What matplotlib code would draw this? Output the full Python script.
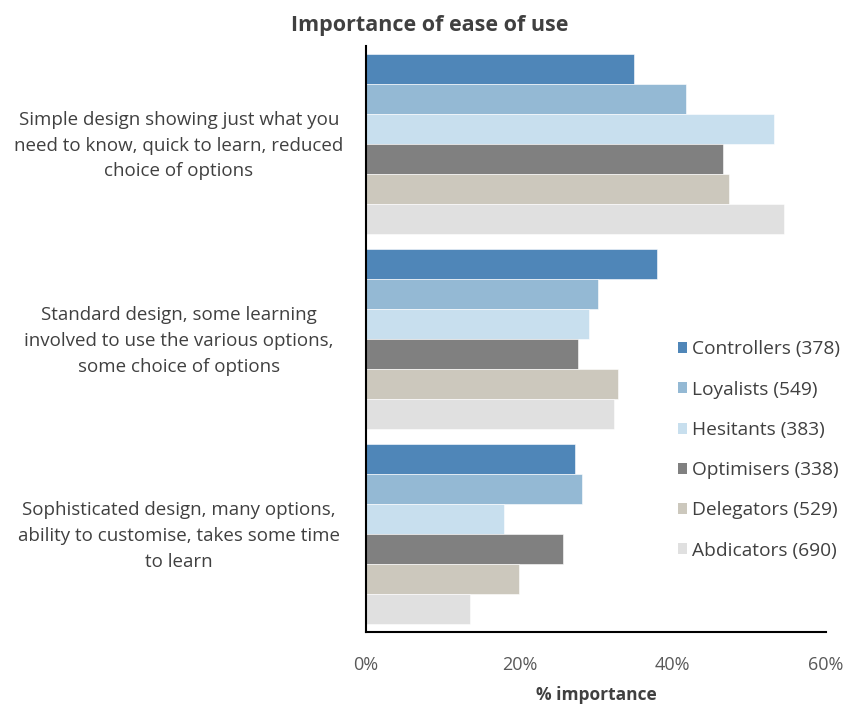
import matplotlib
matplotlib.use("Agg")
import matplotlib.pyplot as plt
import matplotlib.transforms as mtransforms
import numpy as np
from matplotlib.patches import Patch

categories = [
    "Simple design showing just what you\nneed to know, quick to learn, reduced\nchoice of options",
    "Standard design, some learning\ninvolved to use the various options,\nsome choice of options",
    "Sophisticated design, many options,\nability to customise, takes some time\nto learn",
]
series = ["Controllers (378)", "Loyalists (549)", "Hesitants (383)",
          "Optimisers (338)", "Delegators (529)", "Abdicators (690)"]
controllers = [35.0, 37.9, 27.3]
loyalists = [41.7, 30.3, 28.2]
hesitants = [53.2, 29.1, 18.0]
optimisers = [46.6, 27.7, 25.7]
delegators = [47.4, 32.9, 19.9]
abdicators = [54.5, 32.3, 13.5]
values = [controllers, loyalists, hesitants, optimisers, delegators, abdicators]
colors = ["#4F86B8", "#94B9D4", "#C8DFEE", "#808080", "#CCC8BD", "#E0E0E0"]
xticks = [0, 20, 40, 60]
xticklabels = ["0%", "20%", "40%", "60%"]

plt.rcParams['font.family'] = ['Open Sans', 'DejaVu Sans']

fig = plt.figure(figsize=(8.47, 7.04), dpi=100)
ax = fig.add_axes([366/847, 1-632/704, 460/847, 586/704])

n = len(series)
h = 0.923 / n
y = np.arange(len(categories))
for j, (vals, c) in enumerate(zip(values, colors)):
    ax.barh(y + (j - (n - 1) / 2) * h, vals, height=h, color=c, label=series[j],
            edgecolor="white", linewidth=0.4)

ax.set_ylim(len(categories) - 0.5, -0.5)
ax.set_xlim(0, 60)
ax.set_xticks(xticks)
ax.set_xticklabels(xticklabels, color="#595959", fontsize=13)
ax.set_yticks(y)
ax.set_yticklabels(categories, color="#404040", fontsize=13.5, ha="center",
                   multialignment="center", linespacing=1.55)
ax.tick_params(axis="y", length=0, pad=(366 - 179) * 0.72)
ax.tick_params(axis="x", length=0, pad=17)
shift = mtransforms.ScaledTranslation(0, 4/100, fig.dpi_scale_trans)
for lab in ax.get_yticklabels():
    lab.set_transform(lab.get_transform() + shift)
for s in ["top", "right"]:
    ax.spines[s].set_visible(False)
ax.spines["left"].set_color("#000000")
ax.spines["bottom"].set_color("#000000")
ax.spines["left"].set_linewidth(1.5)
ax.spines["bottom"].set_linewidth(1.5)

ax.set_xlabel("% importance", fontsize=12.5, fontweight="bold", color="#404040", labelpad=9)
fig.text(430/847, 1-26/704, "Importance of ease of use", ha="center", va="center",
         fontsize=15.5, fontweight="bold", color="#404040")

handles = [Patch(facecolor=c, edgecolor="none") for c in colors]
leg = ax.legend(handles, series, loc="center left", bbox_to_anchor=(668/847, 1-450/704),
                bbox_transform=fig.transFigure, frameon=False, fontsize=13.8,
                handlelength=0.5, handleheight=0.5, handletextpad=0.25,
                labelspacing=1.16, borderpad=0)
for t in leg.get_texts():
    t.set_color("#404040")

fig.savefig("out.png", dpi=100)
